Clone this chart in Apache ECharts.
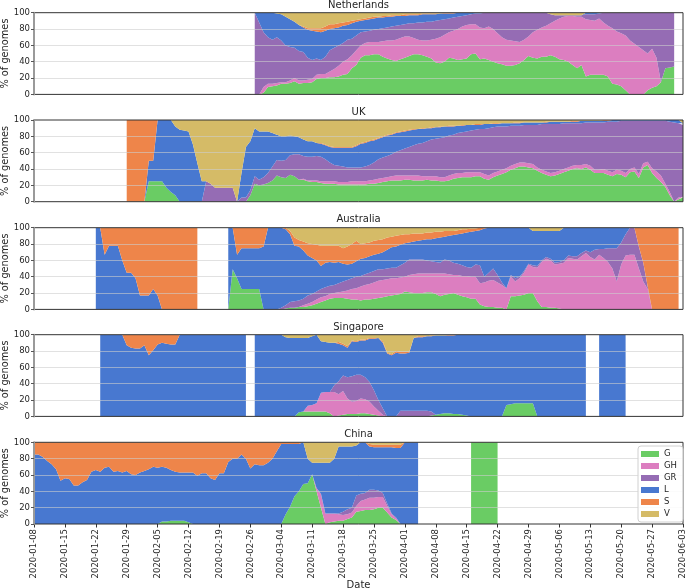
<!DOCTYPE html>
<html><head><meta charset="utf-8">
<script src="https://cdn.jsdelivr.net/npm/echarts@6/dist/echarts.min.js"></script>
<style>html,body{margin:0;padding:0;background:#fff}#chart{width:685px;height:588px}</style>
</head><body><div id="chart"></div>
<script>
const tickLabels = ['2020-01-08','2020-01-15','2020-01-22','2020-01-29','2020-02-05','2020-02-12','2020-02-19','2020-02-26','2020-03-04','2020-03-11','2020-03-18','2020-03-25','2020-04-01','2020-04-08','2020-04-15','2020-04-22','2020-04-29','2020-05-06','2020-05-13','2020-05-20','2020-05-27','2020-06-03'];
const clades = ['G','GH','GR','L','S','V'];
const cladeColors = ['#6acc64','#dc7ec0','#956cb4','#4878d0','#ee854a','#d5bb67'];
const nDays = 148; // 2020-01-08 .. 2020-06-03

// Netherlands: days 50..145 (day 0 = 2020-01-08)
const nlStart = 50;
const nlG = [0,0,2,9,10,11,13,13,14,16,
13,14,14,15,19,20,20,21,21,22,
24,25,32,36,45,48,48,49,49,46,
44,42,41,43,45,47,49,49,48,46,
44,39,38,40,45,44,42,43,44,49,
50,43,44,42,40,38,37,35,35,36,
38,42,47,45,44,46,46,48,46,43,
42,40,36,32,36,22,24,24,24,24,
22,13,12,10,5,0,0,0,0,5,
8,10,15,32,33,34];
const nlGH = [0,0,7,4,3,3,2,2,3,4,
4,3,4,4,5,5,5,7,10,13,
16,18,16,18,15,15,16,15,15,19,
22,24,26,26,26,24,20,18,18,20,
23,29,32,33,31,34,38,40,41,37,
36,39,37,41,40,37,33,32,31,29,
26,25,24,31,35,36,38,39,44,50,
53,56,60,63,59,70,67,66,69,64,
62,68,65,65,67,66,62,58,54,45,
48,35,0,0,0,0];
const nlGR = [100,88,67,57,54,56,51,45,41,37,
36,35,27,23,20,17,21,26,26,25,
23,24,20,18,16,14,14,15,16,16,
16,17,17,16,15,16,18,21,22,23,
22,22,21,19,17,16,15,13,12,12,
13,17,19,17,20,25,30,33,34,35,
36,33,29,24,21,18,16,11,7,4,
2,1,1,2,2,6,7,8,6,12,
16,19,23,25,28,34,38,42,46,50,
44,55,85,68,67,66];
const nlL = [0,12,24,30,33,29,32,35,34,32,
32,30,34,36,33,34,32,26,24,22,
21,18,19,17,14,14,14,14,14,13,
13,12,12,11,10,10,10,9,10,9,
9,8,8,7,6,5,5,4,3,2,
1,1,0,0,0,0,0,0,0,0,
0,0,0,0,0,0,0,0,0,0,
0,0,0,0,0,2,2,2,1,0,
0,0,0,0,0,0,0,0,0,0,
0,0,0,0,0,0];
const nlS = [0,0,0,0,0,0,0,0,0,0,
0,1,2,3,4,5,5,6,5,5,
4,4,3,2,2,2,2,2,1,2,
1,2,1,1,2,1,1,1,1,1,
1,1,0,1,1,1,0,0,0,0,
0,0,0,0,0,0,0,0,0,0,
0,0,0,0,0,0,0,0,0,0,
0,0,0,0,0,0,0,0,0,0,
0,0,0,0,0,0,0,0,0,0,
0,0,0,0,0,0];
const nlV = [0,0,0,0,0,1,2,5,8,11,
15,17,19,19,19,19,17,14,14,13,
12,11,10,9,8,7,6,5,5,4,
4,3,3,3,2,2,2,2,1,1,
1,1,1,0,0,0,0,0,0,0,
0,0,0,0,0,0,0,0,0,0,
0,0,0,0,0,0,0,2,3,3,
3,3,3,3,3,0,0,0,0,0,
0,0,0,0,0,0,0,0,0,0,
0,0,0,0,0,0];

// UK: days 21..147
const ukStart = 21;
const ukG = [0,0,0,0,0,25,25,25,25,17,
12,8,0,0,0,0,0,0,0,0,
0,0,0,0,0,0,0,0,8,22,
20,21,23,26,32,30,29,33,31,27,
27,25,24,24,23,22,22,22,21,21,
21,21,21,21,21,22,22,23,24,25,
26,26,26,27,27,26,26,26,27,26,
26,25,25,26,28,29,30,30,30,31,
31,28,27,30,32,34,36,39,41,43,
43,42,41,38,35,33,31,32,34,36,
38,40,41,40,42,39,35,35,35,33,
31,34,33,30,36,37,29,42,45,35,
29,24,18,8,0,3,5];
const ukGH = [0,0,0,0,0,0,0,0,0,0,
0,0,0,0,0,0,0,0,0,0,
0,0,0,0,0,0,0,0,0,0,
0,0,0,0,0,0,0,0,0,0,
1,1,2,2,2,3,3,3,3,3,
3,4,4,4,4,4,5,5,5,5,
5,6,6,5,5,6,6,5,4,5,
5,5,5,6,6,6,5,6,6,5,
5,6,5,5,5,5,5,5,5,5,
5,5,5,4,4,4,4,4,4,4,
4,4,4,5,4,5,4,4,5,5,
5,5,5,5,4,5,5,5,4,6,
8,8,4,4,0,2,1];
const ukGR = [0,0,0,0,0,0,0,0,0,0,
0,0,0,0,0,0,0,0,25,22,
17,17,17,17,17,0,5,5,6,9,
7,9,12,17,19,20,22,24,27,31,
28,29,29,30,30,27,23,20,20,19,
18,17,17,17,18,19,21,24,25,26,
27,29,31,33,35,37,39,41,43,45,
46,48,49,49,48,49,50,50,51,52,
53,55,58,56,55,53,51,49,47,45,
46,47,48,52,56,58,60,59,57,56,
54,52,51,51,51,53,58,58,57,60,
62,59,61,64,59,57,65,52,50,58,
62,67,77,86,97,91,88];
const ukL = [0,0,0,0,0,25,25,75,75,83,
88,84,88,87,86,70,47,25,0,0,
0,0,0,0,0,0,30,62,60,59,
59,56,51,41,31,30,29,24,22,21,
20,19,19,16,16,17,19,21,22,23,
24,24,26,29,29,29,27,25,25,25,
24,23,22,21,20,19,18,17,16,14,
14,13,13,11,10,9,8,8,7,6,
5,6,5,4,3,4,4,3,3,3,
3,3,3,3,2,2,3,3,3,2,
2,2,2,3,2,2,2,2,2,1,
2,2,1,1,1,1,1,1,1,1,
1,1,1,2,3,4,2];
const ukS = [100,100,100,100,100,50,50,0,0,0,
0,0,0,0,0,0,0,0,0,0,
0,0,0,0,0,0,0,0,0,0,
0,0,0,0,0,0,0,0,0,0,
0,0,0,0,1,1,1,1,1,1,
1,1,1,1,1,1,1,1,1,1,
1,1,1,1,1,1,0,1,0,1,
0,1,0,1,1,0,1,0,0,1,
1,0,0,1,1,0,0,0,1,1,
0,0,0,0,0,1,0,0,0,0,
0,1,1,0,0,0,0,0,1,1,
0,0,0,0,0,0,0,0,0,0,
0,0,0,0,0,0,0];
const ukV = [0,0,0,0,0,0,0,0,0,0,
0,8,12,13,14,30,53,75,75,78,
83,83,83,83,83,100,65,33,26,10,
14,14,14,16,18,20,20,19,20,21,
24,26,26,28,28,30,32,33,33,33,
33,33,31,28,27,25,24,22,20,18,
17,15,14,13,12,11,11,10,10,9,
9,8,8,7,7,7,6,6,6,5,
5,5,5,4,4,4,4,4,3,3,
3,3,3,3,3,2,2,2,2,2,
2,1,1,1,1,1,1,1,0,0,
0,0,0,0,0,0,0,0,0,0,
0,0,0,0,0,0,4];

// Australia: days 14..146 (no data 38..43)
const auStart = 14;
const auG = [0,0,0,0,0,0,0,0,0,0,
0,0,0,0,0,0,0,0,0,0,
0,0,0,0,null,null,null,null,null,null,
0,49,38,25,25,25,25,25,0,0,
0,0,0,1,2,2,3,3,4,5,
7,9,11,13,14,14,14,13,12,12,
11,12,12,13,14,15,16,17,18,19,
22,21,20,20,20,21,21,19,16,18,
19,20,18,16,15,13,13,6,4,3,
3,2,2,0,16,16,17,18,20,20,
10,3,3,2,2,1,0,0,0,0,
0,0,0,0,0,0,0,0,0,0,
0,0,0,0,0,0,0,0,0,0,
0,0,0];
const auGH = [0,0,0,0,0,0,0,0,0,0,
0,0,0,0,0,0,0,0,0,0,
0,0,0,0,null,null,null,null,null,null,
0,0,0,0,0,0,0,0,0,0,
0,0,0,0,0,0,0,2,3,4,
5,6,5,6,6,7,8,10,13,14,
17,18,19,20,21,21,21,21,20,20,
18,21,23,24,24,23,23,25,28,26,
24,22,24,25,26,27,27,26,29,32,
33,31,28,26,24,18,21,27,35,32,
41,55,59,58,53,55,57,63,62,61,
65,69,64,61,67,63,58,50,34,55,
66,67,67,50,34,25,0,0,0,0,
0,0,0];
const auGR = [0,0,0,0,0,0,0,0,0,0,
0,0,0,0,0,0,0,0,0,0,
0,0,0,0,null,null,null,null,null,null,
0,0,0,0,0,0,0,0,0,0,
0,0,2,4,7,8,8,8,10,10,
10,10,11,10,10,11,12,13,13,14,
13,13,14,14,14,13,13,13,13,15,
17,19,18,17,17,16,15,14,13,17,
17,15,14,13,11,11,15,22,7,10,
14,9,3,0,2,4,2,2,1,2,
2,2,2,2,2,2,3,3,3,4,
4,3,6,12,7,11,17,25,41,27,
26,33,33,27,23,3,0,0,0,0,
0,0,0];
const auL = [100,100,67,78,78,78,60,45,45,38,
17,17,17,25,17,0,0,0,0,0,
0,0,0,0,null,null,null,null,null,null,
100,51,29,50,50,50,50,50,77,100,
100,100,98,93,83,68,66,59,49,44,
38,28,30,29,27,26,22,19,18,19,
21,20,20,20,19,21,23,25,26,25,
24,21,22,23,24,26,27,29,31,28,
30,34,36,39,42,44,41,43,59,55,
50,58,67,74,58,62,60,53,44,42,
43,36,32,34,39,38,40,34,35,35,
31,28,30,27,26,26,25,25,25,18,
8,0,0,0,0,0,0,0,0,0,
0,0,0];
const auS = [0,0,33,22,22,22,40,55,55,62,
83,83,83,75,83,100,100,100,100,100,
100,100,100,100,null,null,null,null,null,null,
0,0,33,25,25,25,25,25,23,0,
0,0,0,2,4,10,8,11,15,17,
19,25,21,20,21,20,19,22,24,25,
18,18,17,17,17,16,15,13,13,12,
11,10,10,9,8,8,8,8,7,7,
6,5,5,5,4,4,3,3,1,0,
0,0,0,0,0,0,0,0,0,0,
0,0,0,0,0,0,0,0,0,0,
0,0,0,0,0,0,0,0,0,0,
0,0,0,23,43,72,100,100,100,100,
100,100,100];
const auV = [0,0,0,0,0,0,0,0,0,0,
0,0,0,0,0,0,0,0,0,0,
0,0,0,0,null,null,null,null,null,null,
0,0,0,0,0,0,0,0,0,0,
0,0,0,0,4,12,15,17,19,20,
21,22,22,22,22,22,25,23,20,16,
20,19,18,16,15,14,12,11,10,9,
8,8,7,7,7,6,6,5,5,4,
4,4,3,2,2,1,1,0,0,0,
0,0,0,0,0,0,0,0,0,4,
4,4,4,4,4,4,0,0,0,0,
0,0,0,0,0,0,0,0,0,0,
0,0,0,0,0,0,0,0,0,0,
0,0,0];

// Singapore: days 15..134 (no data 49, 126, 127)
const sgStart = 15;
const sgG = [0,0,0,0,0,0,0,0,0,0,
0,0,0,0,0,0,0,0,0,0,
0,0,0,0,0,0,0,0,0,0,
0,0,0,0,null,0,0,0,0,0,
0,0,0,0,0,5,6,6,6,6,
6,6,4,0,1,2,3,3,3,4,
4,3,2,1,0,0,0,0,0,0,
0,0,0,0,0,1,2,3,4,4,
3,3,2,1,0,0,0,0,0,0,
0,0,14,15,16,16,16,16,16,0,
0,0,0,0,0,0,0,0,0,0,
0,null,null,0,0,0,0,0,0,0];
const sgGH = [0,0,0,0,0,0,0,0,0,0,
0,0,0,0,0,0,0,0,0,0,
0,0,0,0,0,0,0,0,0,0,
0,0,0,0,null,0,0,0,0,0,
0,0,0,0,0,0,0,7,8,10,
23,24,26,30,26,29,19,15,16,18,
17,15,10,6,2,0,0,0,0,0,
0,0,0,0,0,0,0,0,0,0,
0,0,0,0,0,0,0,0,0,0,
0,0,0,0,0,0,0,0,0,0,
0,0,0,0,0,0,0,0,0,0,
0,null,null,0,0,0,0,0,0,0];
const sgGR = [0,0,0,0,0,0,0,0,0,0,
0,0,0,0,0,0,0,0,0,0,
0,0,0,0,0,0,0,0,0,0,
0,0,0,0,null,0,0,0,0,0,
0,0,0,0,0,0,0,0,0,0,
0,0,0,8,16,19,26,31,32,29,
27,24,20,13,8,0,0,0,7,7,
7,7,7,7,7,5,0,0,0,0,
0,0,0,0,0,0,0,0,0,0,
0,0,0,0,0,0,0,0,0,0,
0,0,0,0,0,0,0,0,0,0,
0,null,null,0,0,0,0,0,0,0];
const sgL = [100,100,100,100,100,100,87,84,83,83,
87,75,81,88,90,89,88,88,100,100,
100,100,100,100,100,100,100,100,100,100,
100,100,100,100,null,100,100,100,100,100,
100,100,97,96,96,91,90,83,84,84,
63,61,60,52,46,37,36,43,40,42,
45,53,63,76,80,77,75,78,70,70,
71,89,90,90,91,92,97,96,95,95,
96,97,98,99,100,100,100,100,100,100,
100,100,86,85,84,84,84,84,84,100,
100,100,100,100,100,100,100,100,100,100,
100,null,null,100,100,100,100,100,100,100];
const sgS = [0,0,0,0,0,0,13,16,17,17,
13,25,19,12,10,11,12,12,0,0,
0,0,0,0,0,0,0,0,0,0,
0,0,0,0,null,0,0,0,0,0,
0,0,0,0,0,0,0,0,0,0,
0,0,0,0,2,2,2,1,1,1,
1,1,1,0,2,1,1,2,2,2,
1,0,1,1,0,1,0,0,0,1,
1,0,0,0,0,0,0,0,0,0,
0,0,0,0,0,0,0,0,0,0,
0,0,0,0,0,0,0,0,0,0,
0,null,null,0,0,0,0,0,0,0];
const sgV = [0,0,0,0,0,0,0,0,0,0,
0,0,0,0,0,0,0,0,0,0,
0,0,0,0,0,0,0,0,0,0,
0,0,0,0,null,0,0,0,0,0,
0,0,3,4,4,4,4,4,2,0,
8,9,10,10,9,11,14,7,8,6,
6,4,4,4,8,22,24,20,21,21,
21,4,2,2,2,1,1,1,1,0,
0,0,0,0,0,0,0,0,0,0,
0,0,0,0,0,0,0,0,0,0,
0,0,0,0,0,0,0,0,0,0,
0,null,null,0,0,0,0,0,0,0];

// China: days 0..105 (no data 88..98)
const cnStart = 0;
const cnG = [0,0,0,0,0,0,0,0,0,0,
0,0,0,0,0,0,0,0,0,0,
0,0,0,0,0,0,0,0,0,3,
3,4,4,4,4,2,0,0,0,0,
0,0,0,0,0,0,0,0,0,0,
0,0,0,0,0,0,0,12,21,34,
40,49,50,61,40,20,0,2,3,4,
4,6,8,15,16,17,17,18,20,20,
14,8,5,0,0,0,0,0,null,null,
null,null,null,null,null,null,null,null,null,100,
100,100,100,100,100,100];
const cnGH = [0,0,0,0,0,0,0,0,0,0,
0,0,0,0,0,0,0,0,0,0,
0,0,0,0,0,0,0,0,0,0,
0,0,0,0,0,0,0,0,0,0,
0,0,0,0,0,0,0,0,0,0,
0,0,0,0,0,0,0,0,0,0,
0,0,0,0,4,16,13,11,10,8,
7,6,6,7,12,13,15,14,13,13,
8,4,2,0,0,0,0,0,null,null,
null,null,null,null,null,null,null,null,null,0,
0,0,0,0,0,0];
const cnGR = [0,0,0,0,0,0,0,0,0,0,
0,0,0,0,0,0,0,0,0,0,
0,0,0,0,0,0,0,0,0,0,
0,0,0,0,0,0,0,0,0,0,
0,0,0,0,0,0,0,0,0,0,
0,0,0,0,0,0,0,0,0,0,
0,0,0,0,0,1,0,0,0,1,
4,6,6,13,9,8,10,10,8,5,
3,1,1,0,0,0,0,0,null,null,
null,null,null,null,null,null,null,null,null,0,
0,0,0,0,0,0];
const cnL = [85,85,82,77,73,67,53,56,55,47,
47,51,54,64,66,64,69,70,64,65,
63,65,61,60,63,65,67,70,69,67,
66,62,60,59,59,61,63,59,62,62,
56,54,62,62,76,80,80,85,80,68,
73,72,72,75,80,89,98,86,77,64,
58,51,30,14,31,38,62,62,67,82,
80,77,75,61,63,62,53,52,53,56,
69,81,85,93,100,100,100,100,null,null,
null,null,null,null,null,null,null,null,null,0,
0,0,0,0,0,0];
const cnS = [15,15,18,23,27,33,47,44,45,53,
53,49,46,36,34,36,31,30,36,35,
37,35,39,40,37,35,33,30,31,30,
31,34,36,37,37,37,37,41,38,38,
44,46,38,38,24,20,20,15,20,32,
27,28,28,25,20,11,2,2,2,2,
2,0,0,0,0,0,0,0,0,0,
0,0,0,0,0,0,3,3,3,3,
3,3,4,4,0,0,0,0,null,null,
null,null,null,null,null,null,null,null,null,0,
0,0,0,0,0,0];
const cnV = [0,0,0,0,0,0,0,0,0,0,
0,0,0,0,0,0,0,0,0,0,
0,0,0,0,0,0,0,0,0,0,
0,0,0,0,0,0,0,0,0,0,
0,0,0,0,0,0,0,0,0,0,
0,0,0,0,0,0,0,0,0,0,
0,0,20,25,25,25,25,25,20,5,
5,5,5,4,0,0,2,3,3,3,
3,3,3,3,0,0,0,0,null,null,
null,null,null,null,null,null,null,null,null,0,
0,0,0,0,0,0];

const panels = [
  {name:'Netherlands', start:nlStart, vals:[nlG,nlGH,nlGR,nlL,nlS,nlV]},
  {name:'UK', start:ukStart, vals:[ukG,ukGH,ukGR,ukL,ukS,ukV]},
  {name:'Australia', start:auStart, vals:[auG,auGH,auGR,auL,auS,auV]},
  {name:'Singapore', start:sgStart, vals:[sgG,sgGH,sgGR,sgL,sgS,sgV]},
  {name:'China', start:cnStart, vals:[cnG,cnGH,cnGR,cnL,cnS,cnV]}
];

// category axis: one slot per day, labelled every 7 days
const dayCats = [];
for (let d = 0; d < nDays; d++) dayCats.push(String(d));

function fullRow(start, arr) {
  const out = new Array(nDays).fill(null);
  arr.forEach((v, i) => { out[start + i] = v; });
  return out;
}

const gridTops = [12.7, 120, 227.7, 334.7, 442.3];
const gridH = 81.7;
const titleTops = [0, 107, 214.5, 322, 429];
const FONT = 'DejaVu Sans';
const TXT = '#262626';

const grids = [], xAxes = [], yAxes = [], series = [], titles = [];
panels.forEach((p, pi) => {
  const last = pi === panels.length - 1;
  grids.push({left:34, right:2, top:gridTops[pi], height:gridH, show:true,
    borderColor:'#333', borderWidth:1, backgroundColor:'transparent', z:10,
    containLabel:false, outerBoundsMode:'none'});
  xAxes.push({type:'category', gridIndex:pi, data:dayCats, boundaryGap:false,
    axisLine:{show:false},
    axisTick:{show:last, interval:6, length:3.5, lineStyle:{color:'#333'}},
    axisLabel:{show:last, interval:6, rotate:90, fontSize:8.5, color:TXT, margin:5, fontFamily:FONT,
      formatter: (v, idx) => (idx % 7 === 0 ? tickLabels[idx / 7] : '')},
    splitLine:{show:false},
    name: last ? 'Date' : '', nameLocation:'middle', nameGap:56, nameMoveOverlap:false,
    nameTextStyle:{fontSize:10, color:TXT, fontFamily:FONT}});
  yAxes.push({type:'value', gridIndex:pi, min:0, max:100, interval:20, z:11,
    axisLine:{show:true, lineStyle:{color:'#9a9a9a', width:2}},
    axisTick:{show:true, length:3, lineStyle:{color:'#555'}},
    axisLabel:{fontSize:8.5, color:TXT, margin:4, fontFamily:FONT},
    splitLine:{show:false},
    name:'% of genomes', nameLocation:'middle', nameGap:23.5, nameMoveOverlap:false,
    nameTextStyle:{fontSize:9.8, color:TXT, fontFamily:FONT}});
  titles.push({text:p.name, left:358.5, top:titleTops[pi], textAlign:'center', padding:0,
    textStyle:{fontSize:10, fontWeight:'normal', color:TXT, fontFamily:FONT}});
  clades.forEach((c, ci) => {
    const s = {
      type:'line', name:c, xAxisIndex:pi, yAxisIndex:pi, stack:'st'+pi,
      symbol:'none', showSymbol:false, silent:true, animation:false, connectNulls:false,
      lineStyle:{width:0, color:cladeColors[ci]},
      itemStyle:{color:cladeColors[ci]},
      areaStyle:{color:cladeColors[ci], opacity:1},
      emphasis:{disabled:true},
      data: fullRow(p.start, p.vals[ci])
    };
    if (ci === clades.length - 1) {
      s.markLine = {silent:true, symbol:['none','none'], label:{show:false}, animation:false,
        emphasis:{disabled:true},
        lineStyle:{color:'rgba(205,205,205,0.6)', width:1, type:'solid'},
        data:[{yAxis:20},{yAxis:40},{yAxis:60},{yAxis:80}]};
    }
    series.push(s);
  });
});

const chart = echarts.init(document.getElementById('chart'), null, {renderer:'canvas'});
chart.setOption({
  animation:false,
  backgroundColor:'#ffffff',
  textStyle:{fontFamily:FONT},
  color:cladeColors,
  title:titles,
  grid:grids,
  xAxis:xAxes,
  yAxis:yAxes,
  legend:{
    data: clades.map(n => ({name:n, icon:'rect'})),
    orient:'vertical', left:638, top:446, z:20,
    itemWidth:18, itemHeight:6, itemGap:2, selectedMode:false,
    padding:[3,6,3,3], borderColor:'#d0d0d0', borderWidth:1, borderRadius:3,
    backgroundColor:'rgba(255,255,255,0.85)',
    textStyle:{fontSize:8.5, lineHeight:10, color:TXT, fontFamily:FONT}
  },
  series:series
});
</script>
</body></html>
